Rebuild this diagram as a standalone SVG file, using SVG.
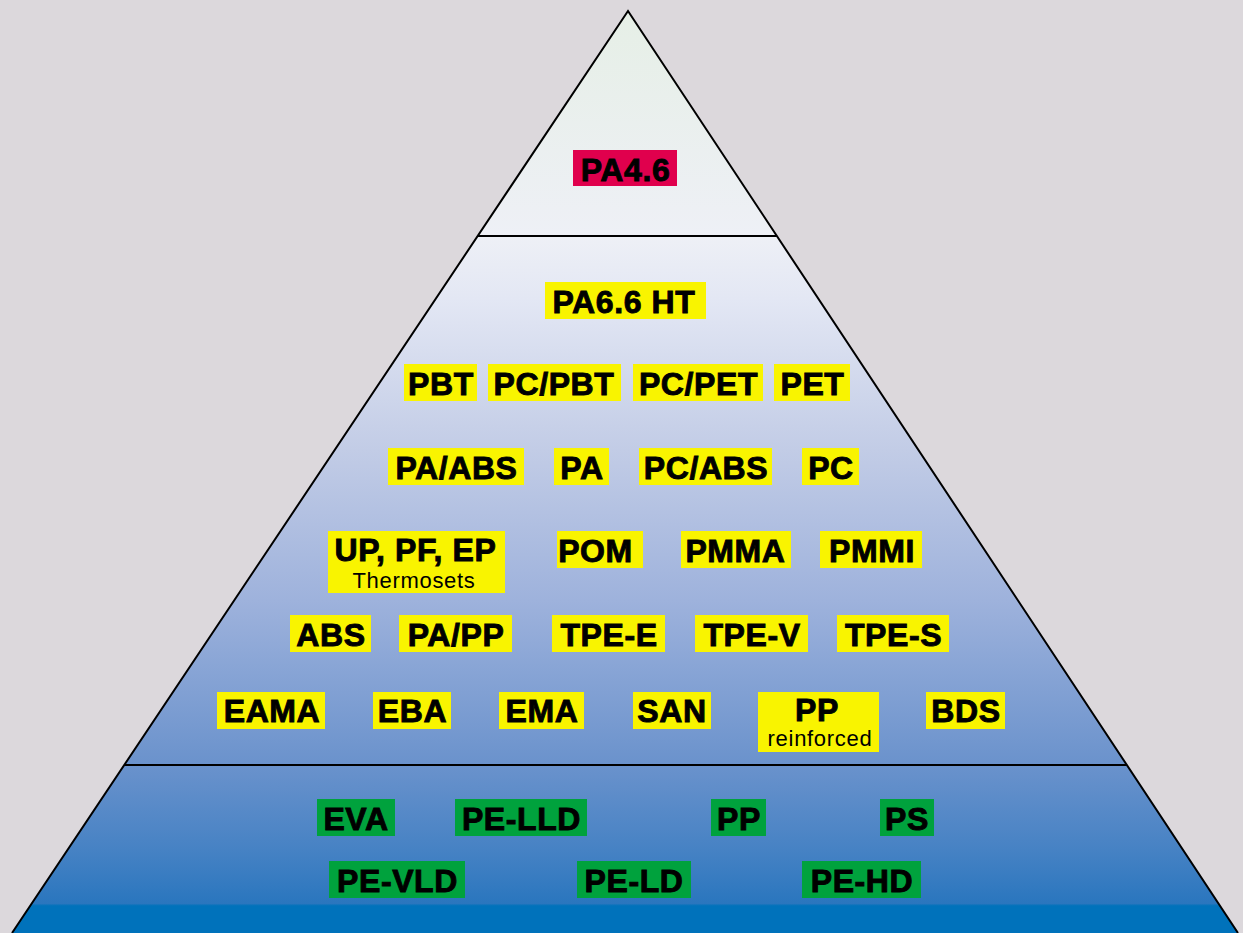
<svg xmlns="http://www.w3.org/2000/svg" width="1243" height="933" viewBox="0 0 1243 933">
<defs>
<linearGradient id="pg" gradientUnits="userSpaceOnUse" x1="0" y1="11" x2="0" y2="933">
<stop offset="0" stop-color="#e6efe6"/>
<stop offset="0.244" stop-color="#eef0f6"/>
<stop offset="0.313" stop-color="#e3e7f4"/>
<stop offset="0.476" stop-color="#c2cce6"/>
<stop offset="0.639" stop-color="#9eb2dc"/>
<stop offset="0.818" stop-color="#6a92cc"/>
<stop offset="0.91" stop-color="#4682c4"/>
<stop offset="0.968" stop-color="#2a76be"/>
<stop offset="0.9705" stop-color="#0072bb"/>
<stop offset="1" stop-color="#0072bb"/>
</linearGradient>
<style>
.y{fill:#f9f400}
.g{fill:#00a23d}
.r{fill:#e0004d}
.t{font-family:"Liberation Sans",Arial,sans-serif;font-weight:bold;font-size:32px;letter-spacing:0.6px;fill:#000;stroke:#000;stroke-width:0.9px;text-anchor:middle}
.s{font-family:"Liberation Sans",Arial,sans-serif;font-size:22px;letter-spacing:0.7px;fill:#000;text-anchor:middle}
.ln{stroke:#000;stroke-width:2;fill:none}
</style>
</defs>
<rect width="1243" height="933" fill="#dcd8dc"/>
<g id="pyramid">
<polygon points="628,11 1238,933 12,933" fill="url(#pg)"/>
<polyline class="ln" points="12,933 628,11 1238,933"/>
</g>
<g id="connectors">
<line class="ln" x1="478" y1="236" x2="777" y2="236"/>
<line class="ln" x1="124" y1="765" x2="1127" y2="765"/>
</g>
<g id="n-pa46"><rect class="r" x="573" y="150" width="104" height="36"/><text class="t" x="625.5" y="181">PA4.6</text></g>
<g id="n-pa66ht"><rect class="y" x="545" y="282" width="161" height="37"/><text class="t" x="624" y="312.5">PA6.6 HT</text></g>
<g id="n-pbt"><rect class="y" x="404" y="364" width="73" height="37"/><text class="t" x="441" y="395">PBT</text></g>
<g id="n-pcpbt"><rect class="y" x="488" y="364" width="133" height="37"/><text class="t" x="554" y="395">PC/PBT</text></g>
<g id="n-pcpet"><rect class="y" x="633" y="364" width="130" height="37"/><text class="t" x="698.5" y="395">PC/PET</text></g>
<g id="n-pet"><rect class="y" x="774" y="364" width="76" height="37"/><text class="t" x="812.5" y="395">PET</text></g>
<g id="n-paabs"><rect class="y" x="388" y="448" width="136" height="37"/><text class="t" x="456.5" y="478.5">PA/ABS</text></g>
<g id="n-pa"><rect class="y" x="554" y="448" width="55" height="37"/><text class="t" x="582" y="478.5">PA</text></g>
<g id="n-pcabs"><rect class="y" x="639" y="448" width="133" height="37"/><text class="t" x="706" y="478.5">PC/ABS</text></g>
<g id="n-pc"><rect class="y" x="802" y="448" width="57" height="37"/><text class="t" x="831" y="478.5">PC</text></g>
<g id="n-thermosets"><rect class="y" x="328" y="531" width="177" height="62"/><text class="t" x="415.5" y="561">UP, PF, EP</text><text class="s" x="414" y="588">Thermosets</text></g>
<g id="n-pom"><rect class="y" x="557" y="531" width="86" height="37"/><text class="t" x="595.5" y="562">POM</text></g>
<g id="n-pmma"><rect class="y" x="681" y="531" width="110" height="37"/><text class="t" x="735.5" y="562">PMMA</text></g>
<g id="n-pmmi"><rect class="y" x="820" y="531" width="102" height="37"/><text class="t" x="872" y="562">PMMI</text></g>
<g id="n-abs"><rect class="y" x="290" y="615" width="81" height="37"/><text class="t" x="331" y="645.5">ABS</text></g>
<g id="n-papp"><rect class="y" x="399" y="615" width="113" height="37"/><text class="t" x="456" y="645.5">PA/PP</text></g>
<g id="n-tpee"><rect class="y" x="552" y="615" width="113" height="37"/><text class="t" x="609" y="645.5">TPE-E</text></g>
<g id="n-tpev"><rect class="y" x="695" y="615" width="113" height="37"/><text class="t" x="752" y="645.5">TPE-V</text></g>
<g id="n-tpes"><rect class="y" x="837" y="615" width="112" height="37"/><text class="t" x="893.5" y="645.5">TPE-S</text></g>
<g id="n-eama"><rect class="y" x="217" y="692" width="108" height="37"/><text class="t" x="272" y="722">EAMA</text></g>
<g id="n-eba"><rect class="y" x="373" y="692" width="78" height="37"/><text class="t" x="412.5" y="722">EBA</text></g>
<g id="n-ema"><rect class="y" x="499" y="692" width="85" height="37"/><text class="t" x="542" y="722">EMA</text></g>
<g id="n-san"><rect class="y" x="633" y="692" width="78" height="37"/><text class="t" x="672" y="722">SAN</text></g>
<g id="n-ppr"><rect class="y" x="758" y="692" width="121" height="60"/><text class="t" x="817" y="721">PP</text><text class="s" x="820" y="746">reinforced</text></g>
<g id="n-bds"><rect class="y" x="926" y="692" width="79" height="37"/><text class="t" x="966" y="722">BDS</text></g>
<g id="n-eva"><rect class="g" x="317" y="799" width="78" height="37"/><text class="t" x="356" y="829.5">EVA</text></g>
<g id="n-pella"><rect class="g" x="455" y="799" width="132" height="37"/><text class="t" x="521.5" y="829.5">PE-LLD</text></g>
<g id="n-pp"><rect class="g" x="711" y="799" width="55" height="37"/><text class="t" x="739" y="829.5">PP</text></g>
<g id="n-ps"><rect class="g" x="880" y="799" width="54" height="37"/><text class="t" x="907" y="829.5">PS</text></g>
<g id="n-pevld"><rect class="g" x="329" y="861" width="136" height="37"/><text class="t" x="397.5" y="891.5">PE-VLD</text></g>
<g id="n-peld"><rect class="g" x="577" y="861" width="114" height="37"/><text class="t" x="634" y="891.5">PE-LD</text></g>
<g id="n-pehd"><rect class="g" x="802" y="861" width="119" height="37"/><text class="t" x="862" y="891.5">PE-HD</text></g>
</svg>
